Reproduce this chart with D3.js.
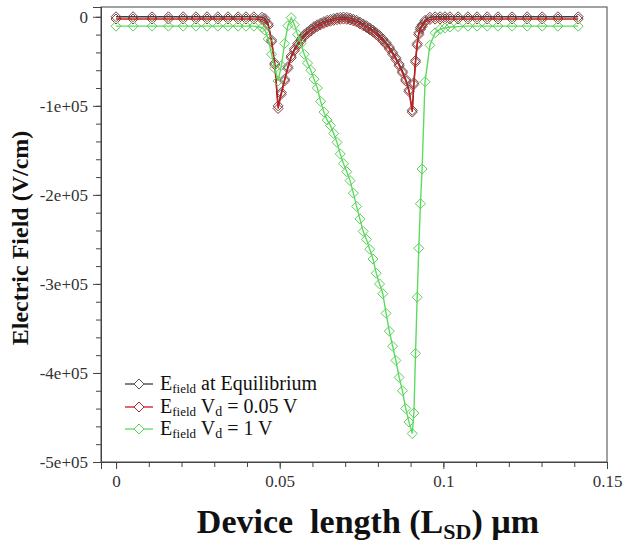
<!DOCTYPE html>
<meta charset="utf-8">
<head>
<title>Electric field along the device</title>
<script src="https://cdnjs.cloudflare.com/ajax/libs/d3/7.8.5/d3.min.js" charset="utf-8"></script>
<style type="text/css">
body {margin: 0; background: #fff;}
text {font-family: "Liberation Serif", "Times New Roman", serif;}
</style>
</head>
<body>
<script>
// Mesh positions along the device (um)
var xPos = [
  0, 0.0052, 0.011, 0.016, 0.0205, 0.0244, 0.0278, 0.0311, 0.0342, 0.0373, 0.0397, 0.0421, 0.0446,
  0.0455, 0.0465, 0.0475, 0.0485, 0.0495, 0.0505, 0.0515, 0.0525, 0.0535, 0.0545,
  0.0555, 0.0565, 0.0575, 0.0585, 0.0595, 0.0605, 0.0615, 0.0625, 0.0635, 0.0645,
  0.0655, 0.0665, 0.0675, 0.0685, 0.0695, 0.0705, 0.0715, 0.0725, 0.0735, 0.0745,
  0.0755, 0.0765, 0.0775, 0.0785, 0.0795, 0.0805, 0.0815, 0.0825, 0.0835, 0.0845,
  0.0855, 0.0865, 0.0875, 0.0885, 0.0895, 0.0905,
  0.091, 0.0915, 0.092, 0.0925, 0.093, 0.0935, 0.0944, 0.0959, 0.0975,
  0.099, 0.1005, 0.102, 0.1045, 0.1075, 0.1103, 0.1134, 0.1167, 0.121, 0.1256, 0.1302, 0.135, 0.1412
];

// Electric field (V/cm)
var fieldEq = [
  0, 0, 0, 0, 0, 0, 0, 0, 0, 0, 0, 0, -500,
  -2000, -8000, -26000, -52000, -100000, -85000, -70000, -56000, -44000, -36000,
  -30000, -25000, -20000, -17000, -14000, -11000, -9000, -7000, -5500, -4000,
  -3000, -2000, -1200, -600, -300, -600, -1500, -2700, -4000, -6000,
  -8000, -10000, -12500, -15000, -18000, -21000, -25000, -29000, -34000, -40000,
  -46000, -53000, -61000, -70000, -82000, -105000,
  -74000, -49000, -30000, -18000, -12000, -9000, -4000, -500, 0,
  0, 0, 0, 0, 0, 0, 0, 0, 0, 0, 0, 0, 0
];

var fieldV005 = [
  -2500, -2500, -2500, -2500, -2500, -2500, -2500, -2500, -2500, -2500, -2500, -2500, -3000,
  -4500, -10000, -28000, -54000, -103000, -87000, -72000, -58000, -46000, -38000,
  -32000, -27000, -22000, -19000, -16000, -13000, -11000, -9000, -7500, -6000,
  -5000, -4000, -3200, -2800, -2600, -2800, -3500, -4600, -6000, -8000,
  -10000, -12000, -14500, -17000, -20000, -23000, -27000, -31000, -36000, -42000,
  -48000, -55000, -63000, -72000, -84000, -107000,
  -76000, -51000, -32000, -20000, -14000, -11000, -6000, -3000, -2600,
  -2500, -2500, -2500, -2500, -2500, -2500, -2500, -2500, -2500, -2500, -2500, -2500, -2500
];

var fieldV1 = [
  -10500, -10500, -10500, -10500, -10500, -10500, -10500, -10500, -10500, -10500, -10500, -10500, -12000,
  -15000, -25000, -42000, -58000, -72000, -55000, -30000, -10000, -1000, -9000,
  -20000, -30000, -42000, -52000, -60000, -70000, -80000, -95000, -107000, -116000,
  -122000, -131000, -141000, -154000, -165000, -174000, -184000, -198000, -213000, -227000,
  -241000, -250000, -261000, -272000, -288000, -300000, -311000, -333000, -353000, -370000,
  -386000, -405000, -420000, -440000, -455000, -468000,
  -445000, -378000, -315000, -260000, -210000, -171000, -73000, -32000, -18000,
  -14000, -12500, -11500, -11000, -10500, -10500, -10500, -10500, -10500, -10500, -10500, -10500, -10500
];

var xTicks = [0, 0.05, 0.1, 0.15],
    xTickLabels = ["0", "0.05", "0.1", "0.15"],
    xMinor = d3.range(0, 0.1501, 0.01);
var yTicks = [0, -100000, -200000, -300000, -400000, -500000],
    yTickLabels = ["0", "-1e+05", "-2e+05", "-3e+05", "-4e+05", "-5e+05"],
    yMinor = d3.range(0, -500001, -20000);

// Parameters
var width = 623,
    height = 548,
    pLeft = 101, pRight = 607, pTop = 7, pBottom = 462;

var svg = d3.select("body").append("svg")
  .attr("width", width)
  .attr("height", height);

var x = d3.scaleLinear().domain([-0.0046, 0.15]).range([pLeft, pRight]);
var y = d3.scaleLinear().domain([-500000, 11000]).range([pBottom, pTop]);

// frame
svg.append("rect")
  .attr("x", pLeft).attr("y", pTop)
  .attr("width", pRight - pLeft).attr("height", pBottom - pTop)
  .style("fill", "none").style("stroke", "#444").style("stroke-width", 1);

// axes
var xMinorAxis = d3.axisBottom(x).tickValues(xMinor).tickSize(5).tickFormat("");
var xAxis = d3.axisBottom(x).tickValues(xTicks).tickSize(7).tickPadding(6)
  .tickFormat(function(d, i) { return xTickLabels[i]; });
var yMinorAxis = d3.axisLeft(y).tickValues(yMinor).tickSize(5).tickFormat("");
var yAxis = d3.axisLeft(y).tickValues(yTicks).tickSize(8).tickPadding(5)
  .tickFormat(function(d, i) { return yTickLabels[i]; });

[xMinorAxis, xAxis].forEach(function(a) {
  svg.append("g").attr("transform", "translate(0," + pBottom + ")").call(a);
});
[yMinorAxis, yAxis].forEach(function(a) {
  svg.append("g").attr("transform", "translate(" + pLeft + ",0)").call(a);
});
svg.selectAll(".domain").style("stroke", "#444");
svg.selectAll(".tick line").style("stroke", "#444");
svg.selectAll(".tick text")
  .style("font-family", "'Liberation Serif', serif")
  .style("font-size", "17px")
  .style("fill", "#333");

// series
var diamond = "M0,-5L5,0L0,5L-5,0Z";
var series = [
  {vals: fieldEq,   line: "#3c3c3c", mark: "#555555"},
  {vals: fieldV005, line: "#d41818", mark: "#a03030"},
  {vals: fieldV1,   line: "#5edb5e", mark: "#5ccf5c"}
];

var lineGen = d3.line()
  .x(function(d) { return x(d[0]); })
  .y(function(d) { return y(d[1]); });

series.forEach(function(s) {
  var pts = xPos.map(function(v, i) { return [v, s.vals[i]]; });
  var g = svg.append("g");
  g.append("path")
    .datum(pts)
    .attr("d", lineGen)
    .style("fill", "none")
    .style("stroke", s.line)
    .style("stroke-width", 1.4);
  g.selectAll("path.m")
    .data(pts)
    .enter()
    .append("path")
    .attr("class", "m")
    .attr("d", diamond)
    .attr("transform", function(d) { return "translate(" + x(d[0]) + "," + y(d[1]) + ")"; })
    .style("fill", "none")
    .style("stroke", s.mark)
    .style("stroke-width", 1);
});

// legend
var legendRows = [384, 407, 429];
var legend = svg.append("g");
series.forEach(function(s, i) {
  var ly = legendRows[i];
  legend.append("line")
    .attr("x1", 125).attr("x2", 153).attr("y1", ly).attr("y2", ly)
    .style("stroke", s.line).style("stroke-width", 1.3);
  legend.append("path")
    .attr("d", diamond)
    .attr("transform", "translate(139," + ly + ")")
    .style("fill", "#fff").style("stroke", s.mark);
  var t = legend.append("text")
    .attr("x", 160).attr("y", ly + 6)
    .style("font-size", "20px").style("fill", "#111");
  t.append("tspan").text("E");
  t.append("tspan").attr("dy", 3).style("font-size", "13px").text("field");
  if (i === 0) {
    t.append("tspan").attr("dy", -3).text(" at Equilibrium");
  } else {
    t.append("tspan").attr("dy", -3).text(" V");
    t.append("tspan").attr("dy", 3).style("font-size", "14px").text("d");
    t.append("tspan").attr("dy", -3).text(i === 1 ? " = 0.05 V" : " = 1 V");
  }
});

// axis titles
svg.append("text")
  .attr("transform", "translate(28,238) rotate(-90)")
  .attr("text-anchor", "middle")
  .style("font-size", "24px")
  .style("font-weight", "bold")
  .style("fill", "#111")
  .text("Electric Field (V/cm)");

var xt = svg.append("text")
  .attr("x", 368).attr("y", 533)
  .attr("text-anchor", "middle")
  .style("font-size", "34px")
  .style("font-weight", "bold")
  .style("white-space", "pre")
  .style("fill", "#111");
xt.append("tspan").text("Device  length (L");
xt.append("tspan").attr("dy", 6).style("font-size", "22px").text("SD");
xt.append("tspan").attr("dy", -6).text(") \u00b5m");
</script>
</body>
